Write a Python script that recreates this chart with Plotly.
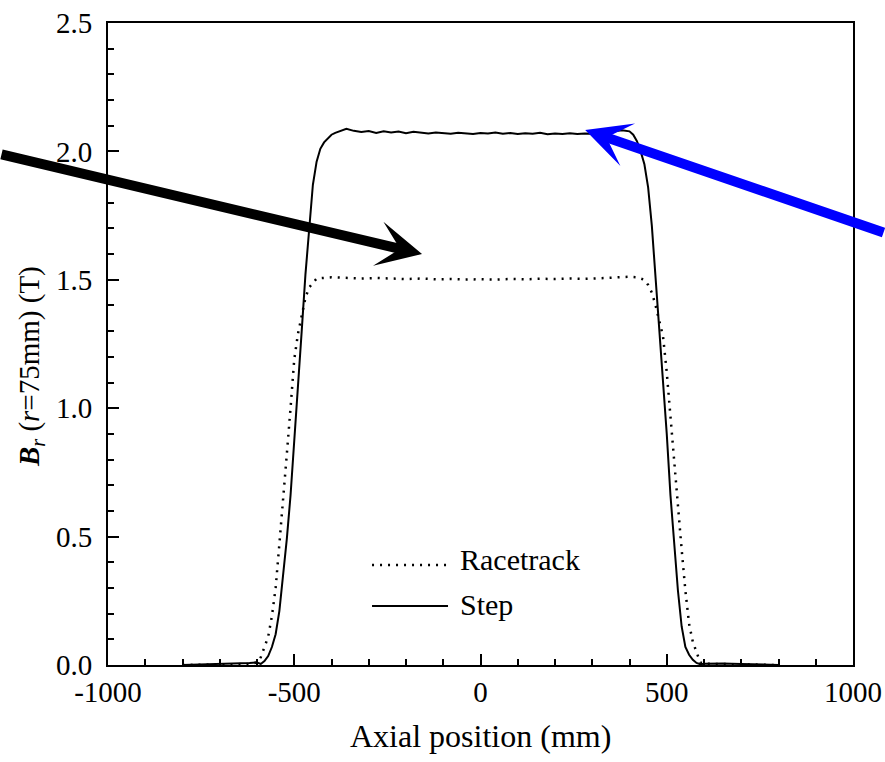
import plotly.graph_objects as go

# ---- data ----
step_x = [-800, -700, -650, -620, -600, -590, -580, -570, -560, -550, -540, -530, -520, -510,
          -500, -490, -480, -470, -460, -450, -440, -430, -420, -410, -400, -390, -380, -370,
          -360, -340, -320, -300, -280, -260, -240, -220, -200, -180, -160, -140, -120, -100,
          -80, -60, -40, -20, 0, 20, 40, 60, 80, 100, 120, 140, 160, 180, 200, 220, 240, 260,
          280, 300, 320, 340, 360, 380, 400, 410, 420, 430, 440, 450, 460, 470, 480, 490, 500,
          510, 520, 530, 540, 550, 560, 570, 580, 590, 600, 650, 700, 800]
step_y = [0.0, 0.003, 0.005, 0.008, 0.010, 0.004, 0.015, 0.035, 0.070, 0.120, 0.210, 0.340, 0.490, 0.660,
          0.860, 1.060, 1.300, 1.520, 1.710, 1.870, 1.960, 2.010, 2.035, 2.050, 2.065, 2.072, 2.078, 2.082,
          2.088, 2.080, 2.076, 2.079, 2.072, 2.078, 2.074, 2.077, 2.071, 2.076, 2.073, 2.070, 2.074, 2.072,
          2.069, 2.073, 2.071, 2.068, 2.072, 2.070, 2.074, 2.069, 2.072, 2.068, 2.071, 2.069, 2.073, 2.067,
          2.070, 2.068, 2.071, 2.068, 2.070, 2.069, 2.072, 2.075, 2.078, 2.082, 2.078, 2.065, 2.040, 2.000,
          1.950, 1.860, 1.710, 1.510, 1.310, 1.100, 0.900, 0.660, 0.470, 0.290, 0.150, 0.070, 0.040, 0.020,
          0.008, 0.003, 0.005, 0.006, 0.004, 0.0]

race_x = [-800, -700, -620, -600, -590, -580, -570, -560, -550, -540, -530, -520, -510, -500,
          -490, -480, -470, -460, -450, -440, -400, -360, -320, -280, -240, -200, -160, -120,
          -80, -40, 0, 40, 80, 120, 160, 200, 240, 280, 320, 360, 380, 400, 420, 440, 450, 460,
          470, 480, 490, 500, 510, 520, 530, 540, 550, 560, 570, 580, 590, 600, 700, 800]
race_y = [0.0, 0.002, 0.004, 0.010, 0.030, 0.070, 0.110, 0.190, 0.300, 0.470, 0.630, 0.820, 1.000, 1.190,
          1.290, 1.360, 1.430, 1.470, 1.490, 1.505, 1.510, 1.508, 1.505, 1.507, 1.504, 1.503, 1.505, 1.502,
          1.503, 1.501, 1.502, 1.501, 1.503, 1.502, 1.504, 1.503, 1.505, 1.504, 1.506, 1.508, 1.510, 1.512,
          1.510, 1.500, 1.480, 1.450, 1.400, 1.340, 1.280, 1.140, 0.960, 0.780, 0.620, 0.450, 0.290, 0.160,
          0.090, 0.050, 0.010, 0.005, 0.002, 0.0]

series_names = ["Racetrack", "Step"]
x_ticks = [-1000, -500, 0, 500, 1000]
y_ticks = [0.0, 0.5, 1.0, 1.5, 2.0, 2.5]

FONT = "Liberation Serif"

fig = go.Figure()
fig.add_trace(go.Scatter(x=race_x, y=race_y, mode="lines", name=series_names[0],
                         line=dict(color="black", width=2.5, dash="2px,6px"), showlegend=False))
fig.add_trace(go.Scatter(x=step_x, y=step_y, mode="lines", name=series_names[1],
                         line=dict(color="black", width=2), showlegend=False))

axis_common = dict(showgrid=False, zeroline=False, showline=True, linecolor="black", linewidth=2,
                   mirror=True, ticks="inside", ticklen=11, tickwidth=2, tickcolor="black",
                   automargin=False,
                   tickfont=dict(family=FONT, size=29, color="black"))

fig.update_xaxes(range=[-1000, 1000], tickvals=x_ticks, ticktext=[str(v) for v in x_ticks],
                 minor=dict(ticks="inside", ticklen=6, tickwidth=2, dtick=100, tickcolor="black"),
                 **axis_common)
fig.update_yaxes(range=[0, 2.5], tickvals=y_ticks, ticktext=[f"{v:.1f}" for v in y_ticks],
                 minor=dict(ticks="inside", ticklen=6, tickwidth=2, dtick=0.1, tickcolor="black"),
                 ticklabelstandoff=8, **axis_common)

annotations = [
    # axis titles
    dict(text="Axial position (mm)", x=0.5, y=0, xref="paper", yref="paper", xanchor="center",
         yanchor="middle", yshift=-71, showarrow=False, font=dict(family=FONT, size=32, color="black")),
    dict(text="<b><i>B</i></b><sub><i>r</i></sub> (<i>r</i>=75mm) (T)", x=0, y=0.464, xref="paper",
         yref="paper", xanchor="center", yanchor="middle", xshift=-77, textangle=-90, showarrow=False,
         font=dict(family=FONT, size=29, color="black")),
    # legend texts
    dict(text=series_names[0], x=0.4698, y=0.164, xref="paper", yref="paper", xanchor="left",
         yanchor="middle", showarrow=False, font=dict(family=FONT, size=30, color="black")),
    dict(text=series_names[1], x=0.4698, y=0.095, xref="paper", yref="paper", xanchor="left",
         yanchor="middle", showarrow=False, font=dict(family=FONT, size=30, color="black")),
    # arrows
    dict(x=-157, y=1.60, xref="x", yref="y", ax=-440, ay=-100, axref="pixel", ayref="pixel",
         text="", showarrow=True, arrowhead=3, arrowsize=0.75, arrowwidth=10, arrowcolor="black",
         standoff=0),
    dict(x=281, y=2.083, xref="x", yref="y", ax=320, ay=103, text="", showarrow=True, arrowhead=3,
         arrowsize=0.75, arrowwidth=10, arrowcolor="#0000FF", standoff=0),
]

shapes = [
    dict(type="line", xref="paper", yref="paper", x0=0.3544, x1=0.4564, y0=0.1557, y1=0.1557,
         line=dict(color="black", width=2.5, dash="2px,6px")),
    dict(type="line", xref="paper", yref="paper", x0=0.3544, x1=0.4564, y0=0.0920, y1=0.0920,
         line=dict(color="black", width=2)),
]

fig.update_layout(width=885, height=762, margin=dict(l=108, r=32, t=23, b=97),
                  paper_bgcolor="white", plot_bgcolor="white", showlegend=False,
                  annotations=annotations, shapes=shapes,
                  font=dict(family=FONT, size=29, color="black"))

fig.write_html("out.html")
